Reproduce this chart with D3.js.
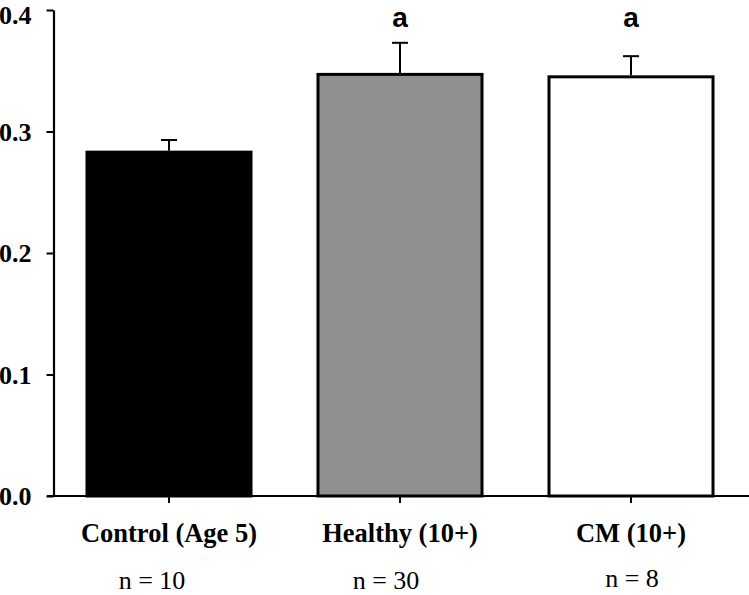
<!DOCTYPE html>
<html>
<head>
<meta charset="utf-8">
<script src="https://cdn.jsdelivr.net/npm/d3@7"></script>
<style>
  html, body { margin: 0; padding: 0; background: #fff; }
  svg { display: block; }
</style>
</head>
<body>
<svg id="chart" width="749" height="595"></svg>
<script>
// ---- data ----
const categories = ["Control (Age 5)", "Healthy (10+)", "CM (10+)"];
const means = [0.283, 0.347, 0.345];
const errors = [0.010, 0.026, 0.017];
const sampleLabels = ["n = 10", "n = 30", "n = 8"];
const sigLetters = ["", "a", "a"];
const yTicks = [0.0, 0.1, 0.2, 0.3, 0.4];
const fills = ["#000000", "#909090", "#ffffff"];

// ---- layout (not data) ----
const nLabelShift = [[-17, 0], [-14, 0], [1, -2]];

const svg = d3.select("#chart");

const x = d3.scaleBand()
  .domain(categories)
  .range([53.5, 746.5])
  .paddingInner(0.29)
  .paddingOuter(0.145);

const y = d3.scaleLinear().domain([0, 0.4]).range([496, 10]);

const serif = "'Liberation Serif', 'Times New Roman', Times, serif";
const sans = "'Liberation Sans', Arial, Helvetica, sans-serif";

// bars
svg.append("g").selectAll("rect")
  .data(categories)
  .join("rect")
  .attr("x", d => x(d))
  .attr("width", x.bandwidth())
  .attr("y", (d, i) => y(means[i]))
  .attr("height", (d, i) => y(0) - y(means[i]))
  .attr("fill", (d, i) => fills[i])
  .attr("stroke", "#000")
  .attr("stroke-width", 3);

// error bars (upper only)
const eb = svg.append("g").attr("stroke", "#000").attr("stroke-width", 2);
categories.forEach((c, i) => {
  const cx = x(c) + x.bandwidth() / 2;
  eb.append("line")
    .attr("x1", cx).attr("x2", cx)
    .attr("y1", y(means[i]) - 1.5).attr("y2", y(means[i] + errors[i]));
  eb.append("line")
    .attr("x1", cx - 8).attr("x2", cx + 8)
    .attr("y1", y(means[i] + errors[i])).attr("y2", y(means[i] + errors[i]));
});

// significance letters
svg.append("g").selectAll("text")
  .data(categories)
  .join("text")
  .attr("x", d => x(d) + x.bandwidth() / 2)
  .attr("y", 27)
  .attr("text-anchor", "middle")
  .attr("font-family", sans)
  .attr("font-weight", "bold")
  .attr("font-size", 28)
  .text((d, i) => sigLetters[i]);

// y axis
const yAxis = svg.append("g")
  .attr("transform", "translate(53.5,0)")
  .call(d3.axisLeft(y).tickValues(yTicks).tickFormat(d3.format(".1f"))
    .tickSize(7).tickSizeOuter(0).tickPadding(15));
yAxis.select(".domain").attr("stroke-width", 2.2);
yAxis.selectAll(".tick line").attr("stroke-width", 2);
yAxis.selectAll(".tick text")
  .attr("font-family", serif)
  .attr("font-weight", "bold")
  .attr("font-size", 26)
  .attr("fill", "#000")
  .attr("dy", d => d === 0.4 ? "0.5em" : "0.34em");

// x axis
const xAxis = svg.append("g")
  .attr("transform", "translate(0,496)")
  .call(d3.axisBottom(x).tickSize(7).tickSizeOuter(0).tickFormat(""));
xAxis.select(".domain").attr("d", "M47,0H749").attr("stroke-width", 2.2);
xAxis.selectAll(".tick line").attr("stroke-width", 2);

// category labels
svg.append("g").selectAll("text")
  .data(categories)
  .join("text")
  .attr("x", d => x(d) + x.bandwidth() / 2)
  .attr("y", 542)
  .attr("text-anchor", "middle")
  .attr("font-family", serif)
  .attr("font-weight", "bold")
  .attr("font-size", 26.5)
  .text(d => d);

// sample size labels
svg.append("g").selectAll("text")
  .data(categories)
  .join("text")
  .attr("x", (d, i) => x(d) + x.bandwidth() / 2 + nLabelShift[i][0])
  .attr("y", (d, i) => 589 + nLabelShift[i][1])
  .attr("text-anchor", "middle")
  .attr("font-family", serif)
  .attr("font-size", 26)
  .text((d, i) => sampleLabels[i]);
</script>
</body>
</html>
